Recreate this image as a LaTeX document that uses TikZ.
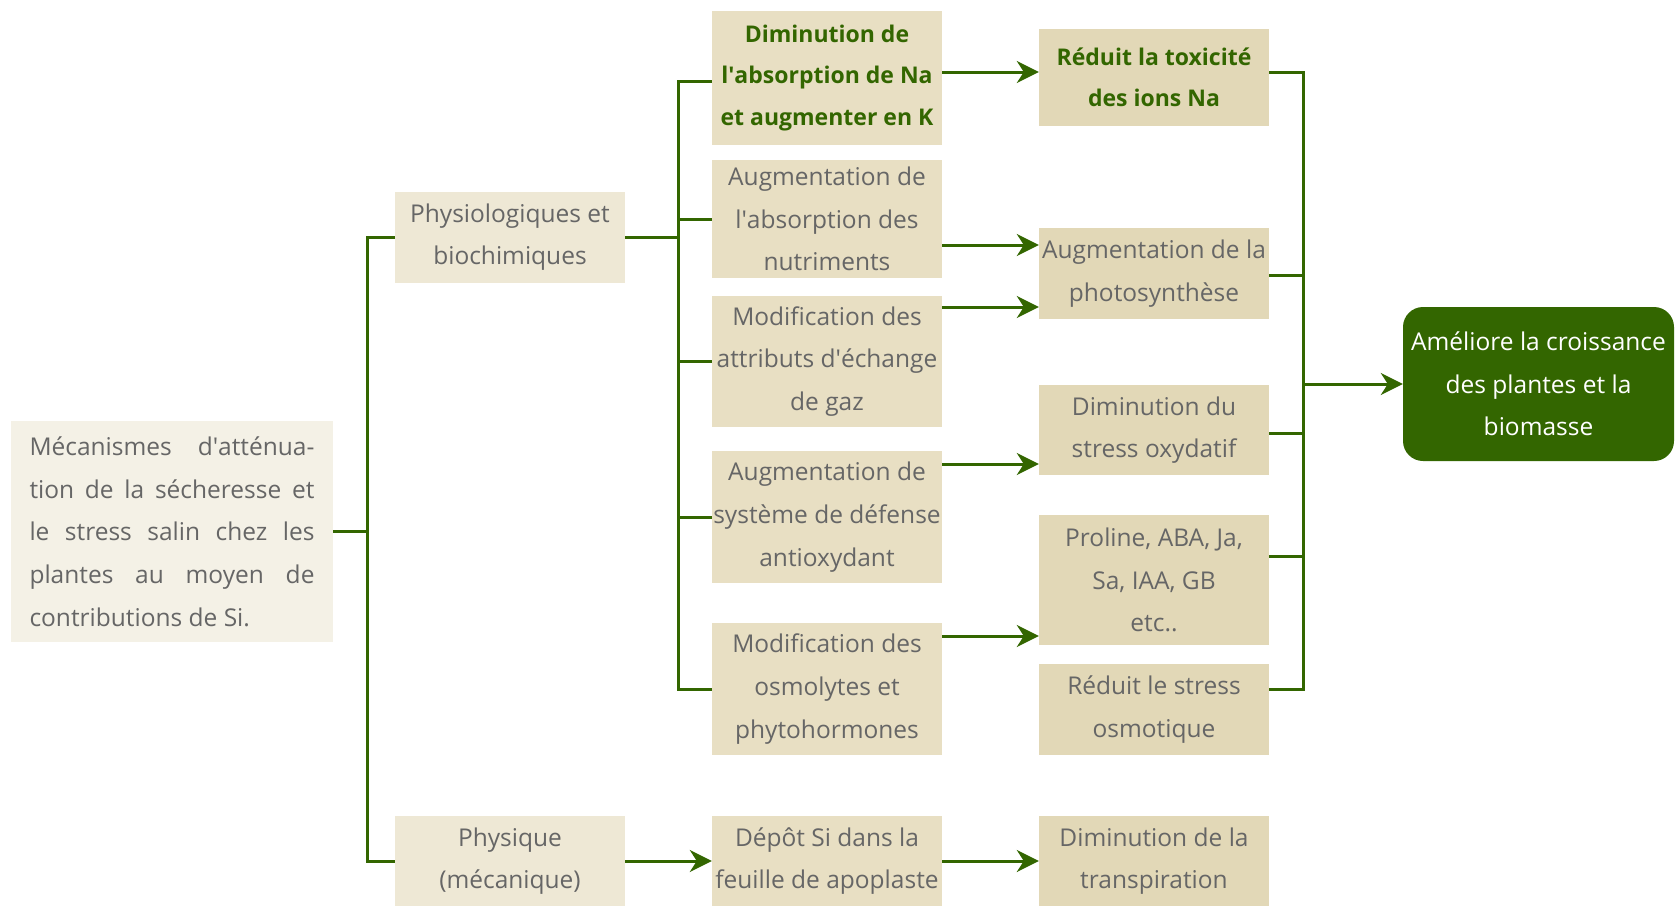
\documentclass[tikz,border=0pt]{standalone}
\usepackage{fontspec}
\setmainfont{Open Sans}
\usetikzlibrary{arrows.meta}
\definecolor{leafgreen}{HTML}{336600}
\definecolor{textgrey}{HTML}{666666}
\definecolor{sandA}{HTML}{F4F1E6}
\definecolor{sandB}{HTML}{EEE8D5}
\definecolor{sandC}{HTML}{E8DFC3}
\definecolor{sandD}{HTML}{E2D8B7}
\newcommand{\apo}{\textquotesingle}
\tikzset{
  base box/.style={
    rectangle, inner sep=0pt, align=center, text=textgrey,
    font=\fontsize{24.5}{42.7}\selectfont
  },
  mech box/.style={
    base box, fill=sandA, minimum width=322, minimum height=221, align=left
  },
  path box/.style={
    base box, fill=sandB, minimum width=230, minimum height=91
  },
  effect box/.style={
    base box, fill=sandC, minimum width=230
  },
  outcome box/.style={
    base box, fill=sandD, minimum width=230
  },
  key text/.style={
    text=leafgreen, font=\fontsize{23}{41.5}\selectfont\bfseries
  },
  goal box/.style={
    base box, fill=leafgreen, text=white, rounded corners=20,
    minimum width=271, minimum height=154
  },
  link/.style={
    draw=leafgreen, line width=3pt
  },
  link arrow/.style={
    link, -{Stealth[length=22pt, width=22pt, inset=7pt]}
  }
}

\begin{document}
\begin{tikzpicture}[x=1pt, y=-1pt]
\useasboundingbox (0,0) rectangle (1675,906);

% ------------------------------------------------
% source et deux voies
% ------------------------------------------------
\node[mech box] (src) at (172,531.5) {%
  \makebox[285pt][s]{Mécanismes d\apo atténua-}\\
  \makebox[285pt][s]{tion de la sécheresse et}\\
  \makebox[285pt][s]{le stress salin chez les}\\
  \makebox[285pt][s]{plantes au moyen de}\\
  contributions de Si.};
\node[path box] (phys) at (510,237) {Physiologiques et\\biochimiques};
\node[path box, minimum height=90] (meca) at (510,861) {Physique\\(mécanique)};

% ------------------------------------------------
% effets
% ------------------------------------------------
\node[effect box, minimum height=134, key text] (na) at (827,78)
  {Diminution de\\l\apo absorption de Na\\et augmenter en K};
\node[effect box, minimum height=118] (nutr) at (827,219)
  {Augmentation de\\l\apo absorption des\\nutriments};
\node[effect box, minimum height=131] (gaz) at (827,361.5)
  {Modification des\\attributs d\apo échange\\de gaz};
\node[effect box, minimum height=132] (anti) at (827,517)
  {Augmentation de\\système de défense\\antioxydant};
\node[effect box, minimum height=132] (osmo) at (827,689)
  {Modification des\\osmolytes et\\phytohormones};
\node[effect box, minimum height=90] (depot) at (827,861)
  {Dépôt Si dans la\\feuille de apoplaste};

% ------------------------------------------------
% résultats
% ------------------------------------------------
\node[outcome box, minimum height=97, key text] (tox) at (1154,77.5)
  {Réduit la toxicité\\des ions Na};
\node[outcome box, minimum height=91] (photo) at (1154,273.5)
  {Augmentation de la\\photosynthèse};
\node[outcome box, minimum height=90] (oxy) at (1154,430)
  {Diminution du\\stress oxydatif};
\node[outcome box, minimum height=130] (horm) at (1154,580)
  {Proline, ABA, Ja,\\Sa, IAA, GB\\etc..};
\node[outcome box, minimum height=91] (osmq) at (1154,709.5)
  {Réduit le stress\\osmotique};
\node[outcome box, minimum height=90] (transp) at (1154,861)
  {Diminution de la\\transpiration};

\node[goal box] (goal) at (1538.5,384)
  {Améliore la croissance\\des plantes et la\\biomasse};

% ------------------------------------------------
% connecteurs
% ------------------------------------------------
\coordinate (lbus) at (367,0);
\coordinate (mbus) at (678,0);
\coordinate (rbus) at (1303,0);

\draw[link] (src.east) -- (src.east -| lbus);
\draw[link] (phys.west) -| (lbus |- meca.west) -- (meca.west);

\draw[link] (phys.east) -- (phys.east -| mbus);
\draw[link] (na.west |- 0,81) -| (mbus |- osmo.west) -- (osmo.west);
\draw[link] (nutr.west) -- (nutr.west -| mbus);
\draw[link] (gaz.west) -- (gaz.west -| mbus);
\draw[link] (anti.west) -- (anti.west -| mbus);

\draw[link arrow] (na.east |- 0,72) -- (tox.west |- 0,72);
\draw[link arrow] (nutr.east |- 0,245) -- (photo.west |- 0,245);
\draw[link arrow] (gaz.east |- 0,307) -- (photo.west |- 0,307);
\draw[link arrow] (anti.east |- 0,464) -- (oxy.west |- 0,464);
\draw[link arrow] (osmo.east |- 0,636) -- (horm.west |- 0,636);
\draw[link arrow] (meca.east) -- (depot.west);
\draw[link arrow] (depot.east) -- (transp.west);

\draw[link] (tox.east |- 0,72) -| (rbus |- 0,689) -- (osmq.east |- 0,689);
\draw[link] (photo.east |- 0,275) -- (rbus |- 0,275);
\draw[link] (oxy.east |- 0,433) -- (rbus |- 0,433);
\draw[link] (horm.east |- 0,556) -- (rbus |- 0,556);
\draw[link arrow] (rbus |- goal.west) -- (goal.west);
\end{tikzpicture}
\end{document}
